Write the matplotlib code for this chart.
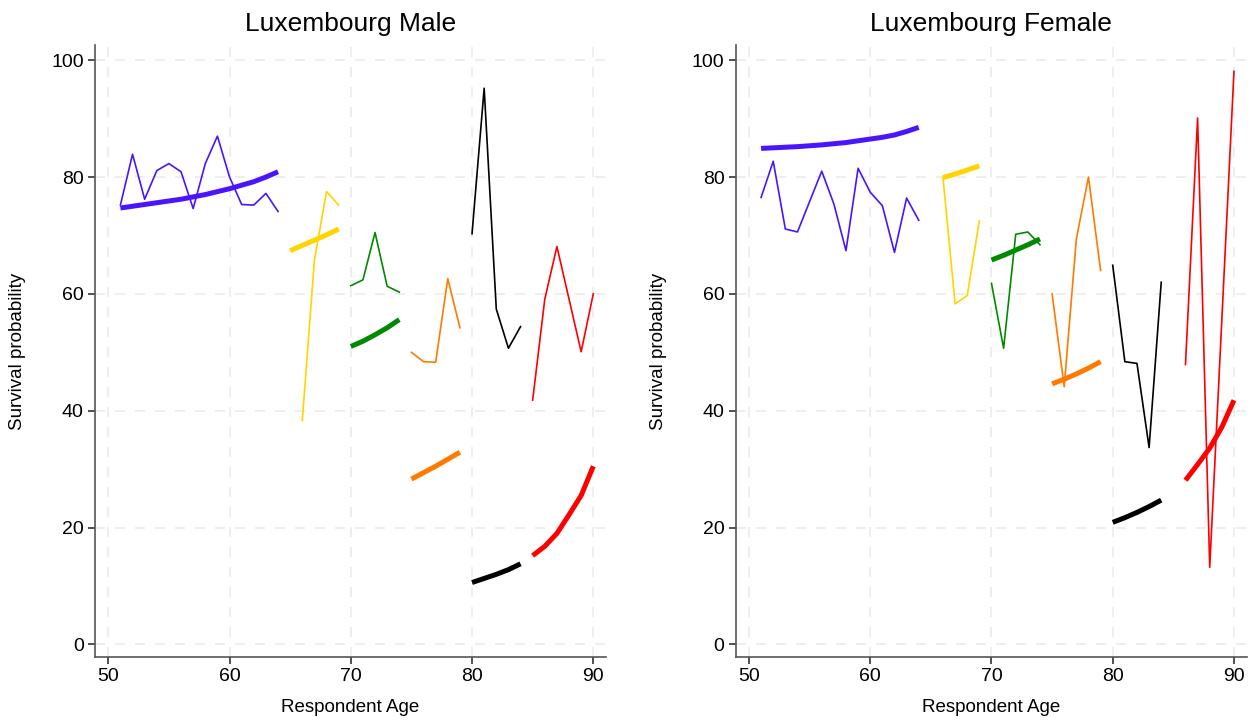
import matplotlib
matplotlib.use("Agg")
import matplotlib.pyplot as plt

plt.rcParams['font.family'] = ['Liberation Sans', 'DejaVu Sans']

colours = ['#4a14ff', '#ffd400', '#008a00', '#ff7a00', '#000000', '#ff0000']

# observed survival (thin lines), one list per age band
male_obs_ages = [list(range(51, 65)), [66, 67, 68, 69], [70, 71, 72, 73, 74],
                 [75, 76, 77, 78, 79], [80, 81, 82, 83, 84], [85, 86, 87, 88, 89, 90]]
male_obs = [[75.2, 83.9, 76.2, 81.1, 82.3, 80.9, 74.6, 82.3, 87.0, 80.0, 75.3, 75.2, 77.2, 74.1],
            [38.3, 65.8, 77.5, 75.2],
            [61.4, 62.4, 70.5, 61.3, 60.3],
            [50.0, 48.4, 48.3, 62.6, 54.2],
            [70.3, 95.2, 57.4, 50.7, 54.4],
            [41.8, 59.1, 68.1, 59.1, 50.1, 60.0]]

# fitted survival curves (thick lines)
male_fit_ages = [list(range(51, 65)), [65, 66, 67, 68, 69], [70, 71, 72, 73, 74],
                 [75, 76, 77, 78, 79], [80, 81, 82, 83, 84], [85, 86, 87, 88, 89, 90]]
male_fit = [[74.7, 75.0, 75.3, 75.6, 75.9, 76.2, 76.6, 77.0, 77.5, 78.0, 78.6, 79.2, 80.0, 80.9],
            [67.4, 68.3, 69.2, 70.1, 71.1],
            [51.0, 51.9, 53.0, 54.2, 55.6],
            [28.3, 29.4, 30.5, 31.7, 32.9],
            [10.6, 11.3, 12.0, 12.8, 13.8],
            [15.2, 16.8, 19.0, 22.2, 25.5, 30.5]]

female_obs_ages = [list(range(51, 65)), [66, 67, 68, 69], [70, 71, 72, 73, 74],
                   [75, 76, 77, 78, 79], [80, 81, 82, 83, 84], [86, 87, 88, 89, 90]]
female_obs = [[76.5, 82.7, 71.1, 70.6, 75.8, 81.0, 75.4, 67.4, 81.5, 77.4, 75.1, 67.1, 76.4, 72.6],
              [79.9, 58.3, 59.7, 72.5],
              [61.8, 50.7, 70.2, 70.6, 68.4],
              [60.0, 44.1, 69.4, 80.0, 64.0],
              [64.9, 48.4, 48.1, 33.7, 62.0],
              [47.9, 90.1, 13.2, 55.6, 98.1]]

female_fit_ages = [list(range(51, 65)), [66, 67, 68, 69], [70, 71, 72, 73, 74],
                   [75, 76, 77, 78, 79], [80, 81, 82, 83, 84], [86, 87, 88, 89, 90]]
female_fit = [[84.9, 85.0, 85.1, 85.2, 85.35, 85.5, 85.7, 85.9, 86.2, 86.5, 86.8, 87.2, 87.8, 88.5],
              [79.9, 80.5, 81.2, 81.9],
              [65.8, 66.6, 67.5, 68.4, 69.4],
              [44.6, 45.4, 46.3, 47.3, 48.4],
              [20.9, 21.7, 22.6, 23.6, 24.7],
              [28.1, 30.8, 33.6, 37.2, 41.8]]

x_ticks = [50, 60, 70, 80, 90]
y_ticks = [0, 20, 40, 60, 80, 100]


def draw_panel(ax, title, obs_ages, obs, fit_ages, fit):
    for c, a, v in zip(colours, fit_ages, fit):
        ax.plot(a, v, color=c, lw=3.6, solid_capstyle='butt')
    for c, a, v in zip(colours, obs_ages, obs):
        ax.plot(a, v, color=c, lw=1.2)

    ax.set_xlim(48.9, 91.05)
    ax.set_ylim(-2.2, 102.6)
    ax.set_xticks(x_ticks)
    ax.set_yticks(y_ticks)
    ax.grid(True, color='#ebebeb', lw=1.2, ls=(0, (6, 6)))
    ax.set_axisbelow(True)
    for side in ['top', 'right']:
        ax.spines[side].set_visible(False)
    for side in ['left', 'bottom']:
        ax.spines[side].set_color('#555555')
        ax.spines[side].set_linewidth(1.2)
    ax.tick_params(labelsize=14, length=5, width=1.2, color='#333333', pad=3)
    ax.set_title(title, fontsize=19, pad=10)
    ax.set_xlabel('Respondent Age', fontsize=13.5, labelpad=10)
    ax.set_ylabel('Survival probability', fontsize=13.5, labelpad=18)


fig = plt.figure(figsize=(12.56, 7.22), dpi=100)
ax1 = fig.add_axes([0.0756, 0.0896, 0.4069, 0.8481])
ax2 = fig.add_axes([0.5857, 0.0896, 0.4069, 0.8481])

draw_panel(ax1, 'Luxembourg Male', male_obs_ages, male_obs, male_fit_ages, male_fit)
draw_panel(ax2, 'Luxembourg Female', female_obs_ages, female_obs, female_fit_ages, female_fit)

fig.savefig('out.png', dpi=100)
